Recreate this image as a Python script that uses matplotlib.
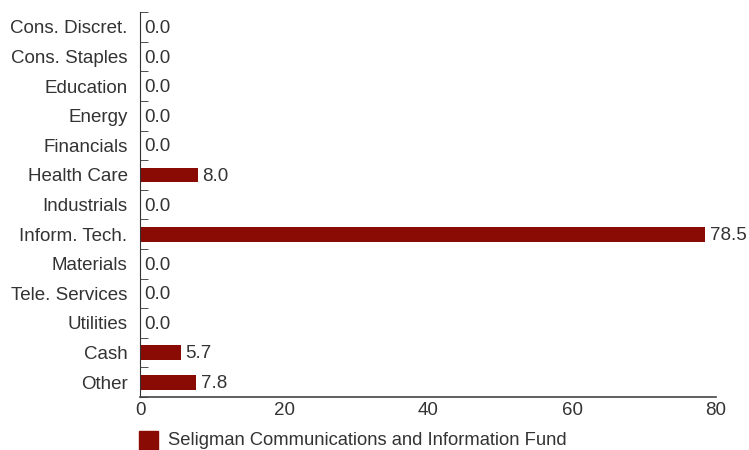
import matplotlib
matplotlib.use("Agg")
import matplotlib.pyplot as plt
import numpy as np

sectors = ["Cons. Discret.", "Cons. Staples", "Education", "Energy", "Financials",
           "Health Care", "Industrials", "Inform. Tech.", "Materials",
           "Tele. Services", "Utilities", "Cash", "Other"]
weights = [0.0, 0.0, 0.0, 0.0, 0.0, 8.0, 0.0, 78.5, 0.0, 0.0, 0.0, 5.7, 7.8]
xticks = [0, 20, 40, 60, 80]
fund_name = "Seligman Communications and Information Fund"

plt.rcParams['font.family'] = ['Liberation Sans', 'DejaVu Sans']
bar_color = "#8a0a04"
text_color = "#333333"
fs = 13.5

fig = plt.figure(figsize=(7.49, 4.5), dpi=100)
ax = fig.add_axes([0.187, 0.118, 0.769, 0.855])

y = np.arange(len(sectors))
ax.barh(y, weights, height=0.5, color=bar_color)
for yi, v in zip(y, weights):
    ax.text(v + 0.6, yi + 0.05, "{:.1f}".format(v), va="center", ha="left",
            fontsize=fs, color=text_color)

ax.set_ylim(len(sectors) - 0.5, -0.5)
ax.set_xlim(0, 80)
ax.set_yticks(y)
ax.set_yticklabels(sectors, fontsize=fs, color=text_color)
ax.set_yticks(np.arange(len(sectors) + 1) - 0.5, minor=True)
ax.tick_params(axis="y", which="major", length=0, pad=9)
ax.tick_params(axis="y", which="minor", direction="in", length=6, color="#333333")
ax.set_xticks(xticks)
ax.set_xticklabels([str(t) for t in xticks], fontsize=fs, color=text_color)
ax.tick_params(axis="x", length=0, pad=4)

for s in ["top", "right"]:
    ax.spines[s].set_visible(False)
ax.spines["left"].set_color("#333333")
ax.spines["bottom"].set_color("#444444")
ax.spines["bottom"].set_linewidth(1.2)

# legend swatch + name, sitting on the bottom edge like the original
fig.patches.append(plt.Rectangle((139 / 749, 0), 19 / 749, 19 / 450,
                                 transform=fig.transFigure, color=bar_color))
fig.text(168 / 749, 5 / 450, fund_name, fontsize=13.2, color=text_color,
         va="baseline", ha="left")

fig.savefig("out.png", dpi=100)
